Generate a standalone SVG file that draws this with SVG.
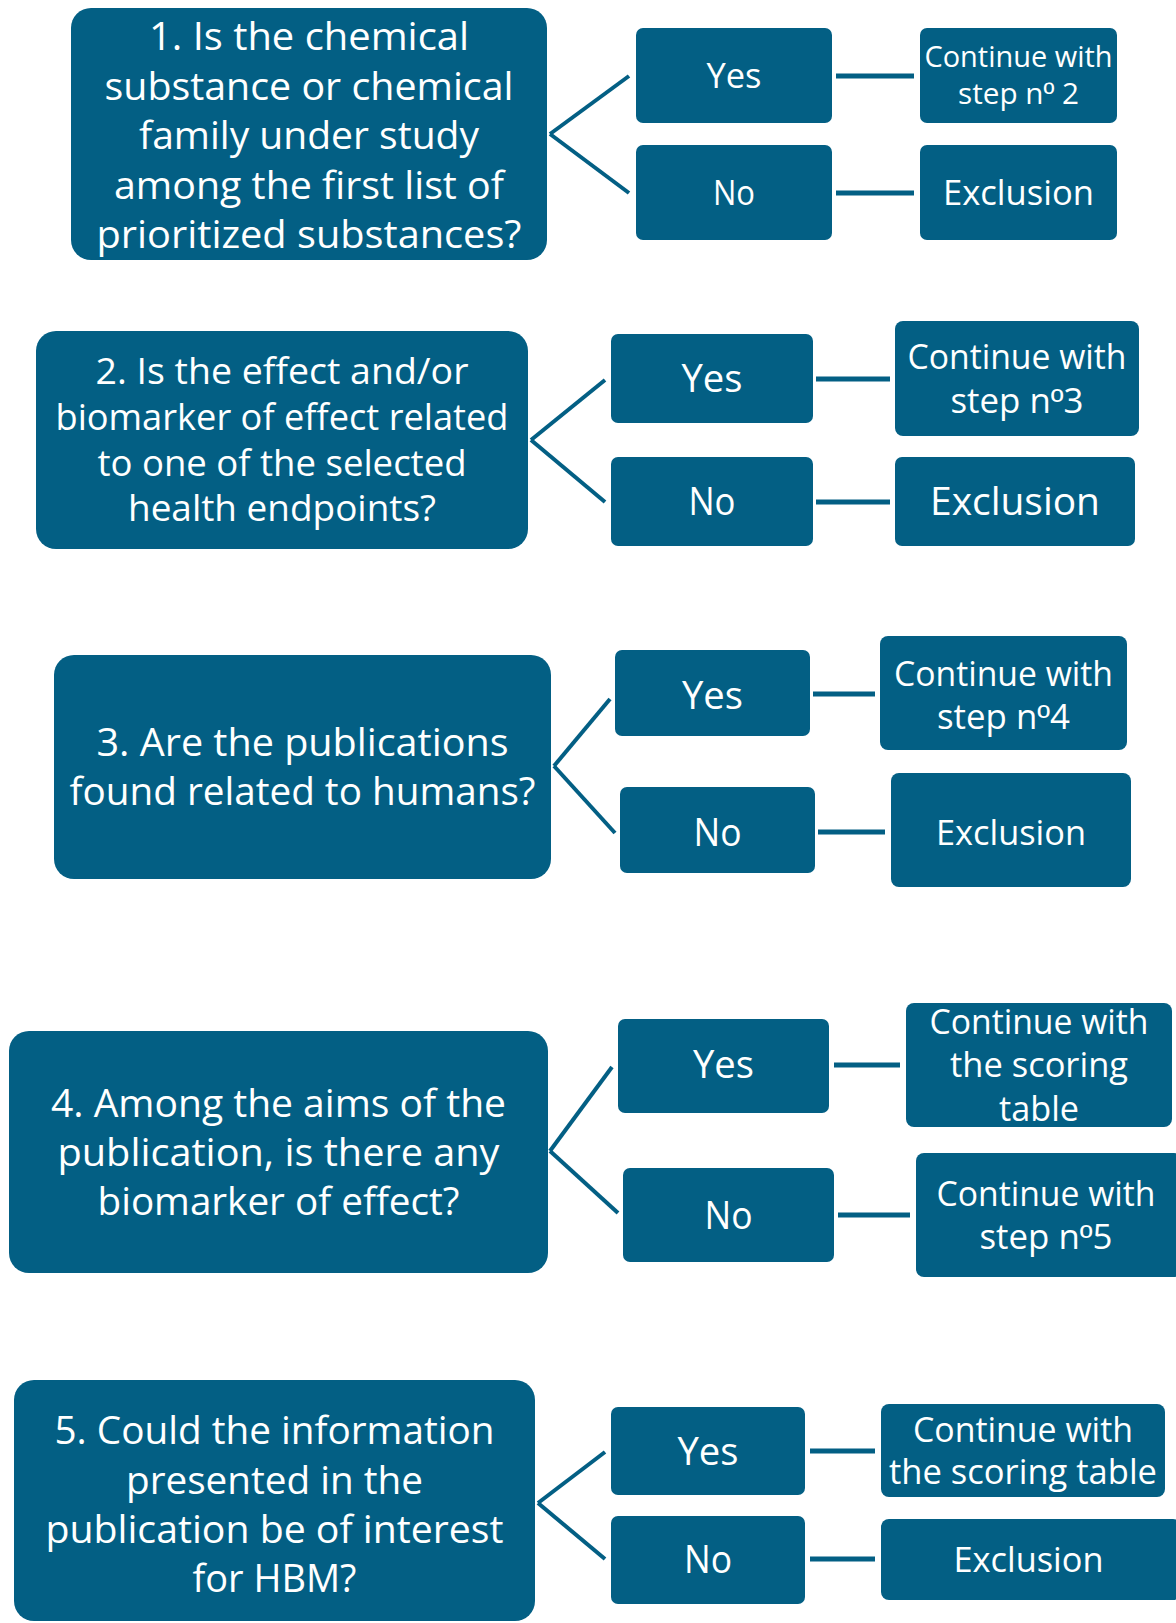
<svg xmlns="http://www.w3.org/2000/svg" width="1176" height="1623" viewBox="0 0 1176 1623">
<style>
.q{fill:#035f84}
.b{fill:#035f84}
.t{fill:#ffffff;font-family:"Open Sans","Noto Sans","Liberation Sans",sans-serif;text-anchor:middle}
.o{font-family:"Liberation Sans","DejaVu Sans",sans-serif}
.c line{stroke:#035f84;stroke-linecap:butt}
.d{stroke-width:4}
.h{stroke-width:5}
</style>
<rect width="1176" height="1623" fill="#ffffff"/>
<g class="c" id="connectors">
<line class="d" x1="550" y1="134" x2="629" y2="76"/>
<line class="d" x1="550" y1="134" x2="629" y2="193"/>
<line class="h" x1="836" y1="76" x2="914" y2="76"/>
<line class="h" x1="836" y1="193" x2="914" y2="193"/>
<line class="d" x1="531" y1="440" x2="605" y2="380"/>
<line class="d" x1="531" y1="440" x2="605" y2="502"/>
<line class="h" x1="816" y1="379" x2="890" y2="379"/>
<line class="h" x1="816" y1="502" x2="890" y2="502"/>
<line class="d" x1="554" y1="766" x2="610" y2="699"/>
<line class="d" x1="554" y1="766" x2="615" y2="833"/>
<line class="h" x1="813" y1="694" x2="875" y2="694"/>
<line class="h" x1="818" y1="832" x2="885" y2="832"/>
<line class="d" x1="550" y1="1151" x2="612" y2="1067"/>
<line class="d" x1="550" y1="1151" x2="618" y2="1213"/>
<line class="h" x1="834" y1="1065" x2="900" y2="1065"/>
<line class="h" x1="838" y1="1215" x2="910" y2="1215"/>
<line class="d" x1="538" y1="1503" x2="605" y2="1452"/>
<line class="d" x1="538" y1="1503" x2="605" y2="1559"/>
<line class="h" x1="810" y1="1451" x2="875" y2="1451"/>
<line class="h" x1="810" y1="1559" x2="875" y2="1559"/>
</g>
<g id="q1"><rect class="q" x="71" y="8" width="476" height="252" rx="20"/>
<text class="t" font-size="38" x="309" y="50" textLength="320" lengthAdjust="spacingAndGlyphs">1. Is the chemical</text>
<text class="t" font-size="38" x="309" y="99.5" textLength="409" lengthAdjust="spacingAndGlyphs">substance or chemical</text>
<text class="t" font-size="38" x="309" y="149" textLength="340" lengthAdjust="spacingAndGlyphs">family under study</text>
<text class="t" font-size="38" x="309" y="198.5" textLength="390" lengthAdjust="spacingAndGlyphs">among the first list of</text>
<text class="t" font-size="38" x="309" y="248" textLength="425" lengthAdjust="spacingAndGlyphs">prioritized substances?</text></g>
<g id="yes1"><rect class="b" x="636" y="28" width="196" height="95" rx="7"/><text class="t" font-size="35" x="734" y="88" textLength="55" lengthAdjust="spacingAndGlyphs">Yes</text></g>
<g id="no1"><rect class="b" x="636" y="145" width="196" height="95" rx="7"/><text class="t" font-size="35" x="734" y="205" textLength="42" lengthAdjust="spacingAndGlyphs">No</text></g>
<g id="cont1"><rect class="b" x="920" y="28" width="197" height="95" rx="7"/>
<text class="t" font-size="30" x="1018.5" y="67" textLength="188" lengthAdjust="spacingAndGlyphs">Continue with</text>
<text class="t" font-size="30" x="1018.5" y="104" textLength="121" lengthAdjust="spacingAndGlyphs">step n<tspan class="o">º</tspan> 2</text></g>
<g id="excl1"><rect class="b" x="920" y="145" width="197" height="95" rx="7"/><text class="t" font-size="34" x="1018.5" y="205" textLength="151" lengthAdjust="spacingAndGlyphs">Exclusion</text></g>

<g id="q2"><rect class="q" x="36" y="331" width="492" height="218" rx="20"/>
<text class="t" font-size="36" x="282" y="384" textLength="373" lengthAdjust="spacingAndGlyphs">2. Is the effect and/or</text>
<text class="t" font-size="36" x="282" y="430" textLength="453" lengthAdjust="spacingAndGlyphs">biomarker of effect related</text>
<text class="t" font-size="36" x="282" y="476" textLength="369" lengthAdjust="spacingAndGlyphs">to one of the selected</text>
<text class="t" font-size="36" x="282" y="521" textLength="308" lengthAdjust="spacingAndGlyphs">health endpoints?</text></g>
<g id="yes2"><rect class="b" x="611" y="334" width="202" height="89" rx="7"/><text class="t" font-size="38" x="712" y="392" textLength="61" lengthAdjust="spacingAndGlyphs">Yes</text></g>
<g id="no2"><rect class="b" x="611" y="457" width="202" height="89" rx="7"/><text class="t" font-size="38" x="712" y="515" textLength="47" lengthAdjust="spacingAndGlyphs">No</text></g>
<g id="cont2"><rect class="b" x="895" y="321" width="244" height="115" rx="8"/>
<text class="t" font-size="34" x="1017" y="369" textLength="219" lengthAdjust="spacingAndGlyphs">Continue with</text>
<text class="t" font-size="34" x="1017" y="413" textLength="133" lengthAdjust="spacingAndGlyphs">step n<tspan class="o">º</tspan>3</text></g>
<g id="excl2"><rect class="b" x="895" y="457" width="240" height="89" rx="7"/><text class="t" font-size="38" x="1015" y="515" textLength="170" lengthAdjust="spacingAndGlyphs">Exclusion</text></g>

<g id="q3"><rect class="q" x="54" y="655" width="497" height="224" rx="20"/>
<text class="t" font-size="38" x="302.5" y="756" textLength="412" lengthAdjust="spacingAndGlyphs">3. Are the publications</text>
<text class="t" font-size="38" x="302.5" y="805" textLength="466" lengthAdjust="spacingAndGlyphs">found related to humans?</text></g>
<g id="yes3"><rect class="b" x="615" y="650" width="195" height="86" rx="7"/><text class="t" font-size="38" x="712.5" y="709" textLength="61" lengthAdjust="spacingAndGlyphs">Yes</text></g>
<g id="no3"><rect class="b" x="620" y="787" width="195" height="86" rx="7"/><text class="t" font-size="38" x="717.5" y="846" textLength="48" lengthAdjust="spacingAndGlyphs">No</text></g>
<g id="cont3"><rect class="b" x="880" y="636" width="247" height="114" rx="8"/>
<text class="t" font-size="34" x="1003.5" y="686" textLength="219" lengthAdjust="spacingAndGlyphs">Continue with</text>
<text class="t" font-size="34" x="1003.5" y="729" textLength="133" lengthAdjust="spacingAndGlyphs">step n<tspan class="o">º</tspan>4</text></g>
<g id="excl3"><rect class="b" x="891" y="773" width="240" height="114" rx="8"/><text class="t" font-size="35" x="1011" y="845" textLength="150" lengthAdjust="spacingAndGlyphs">Exclusion</text></g>

<g id="q4"><rect class="q" x="9" y="1031" width="539" height="242" rx="20"/>
<text class="t" font-size="38" x="278.5" y="1117" textLength="455" lengthAdjust="spacingAndGlyphs">4. Among the aims of the</text>
<text class="t" font-size="38" x="278.5" y="1166" textLength="442" lengthAdjust="spacingAndGlyphs">publication, is there any</text>
<text class="t" font-size="38" x="278.5" y="1215" textLength="362" lengthAdjust="spacingAndGlyphs">biomarker of effect?</text></g>
<g id="yes4"><rect class="b" x="618" y="1019" width="211" height="94" rx="7"/><text class="t" font-size="38" x="723.5" y="1078" textLength="61" lengthAdjust="spacingAndGlyphs">Yes</text></g>
<g id="no4"><rect class="b" x="623" y="1168" width="211" height="94" rx="7"/><text class="t" font-size="38" x="728.5" y="1229" textLength="48" lengthAdjust="spacingAndGlyphs">No</text></g>
<g id="cont4a"><rect class="b" x="906" y="1003" width="266" height="124" rx="8"/>
<text class="t" font-size="34" x="1039" y="1034" textLength="219" lengthAdjust="spacingAndGlyphs">Continue with</text>
<text class="t" font-size="34" x="1039" y="1077" textLength="178" lengthAdjust="spacingAndGlyphs">the scoring</text>
<text class="t" font-size="34" x="1039" y="1121" textLength="80" lengthAdjust="spacingAndGlyphs">table</text></g>
<g id="cont4b"><rect class="b" x="916" y="1153" width="266" height="124" rx="8"/>
<text class="t" font-size="34" x="1046" y="1206" textLength="219" lengthAdjust="spacingAndGlyphs">Continue with</text>
<text class="t" font-size="34" x="1046" y="1249" textLength="133" lengthAdjust="spacingAndGlyphs">step n<tspan class="o">º</tspan>5</text></g>

<g id="q5"><rect class="q" x="14" y="1380" width="521" height="241" rx="20"/>
<text class="t" font-size="38" x="274.5" y="1444" textLength="440" lengthAdjust="spacingAndGlyphs">5. Could the information</text>
<text class="t" font-size="38" x="274.5" y="1494" textLength="297" lengthAdjust="spacingAndGlyphs">presented in the</text>
<text class="t" font-size="38" x="274.5" y="1543" textLength="458" lengthAdjust="spacingAndGlyphs">publication be of interest</text>
<text class="t" font-size="38" x="274.5" y="1592" textLength="164" lengthAdjust="spacingAndGlyphs">for HBM?</text></g>
<g id="yes5"><rect class="b" x="611" y="1407" width="194" height="88" rx="7"/><text class="t" font-size="38" x="708" y="1465" textLength="61" lengthAdjust="spacingAndGlyphs">Yes</text></g>
<g id="no5"><rect class="b" x="611" y="1516" width="194" height="88" rx="7"/><text class="t" font-size="38" x="708" y="1573" textLength="48" lengthAdjust="spacingAndGlyphs">No</text></g>
<g id="cont5"><rect class="b" x="881" y="1404" width="284" height="93" rx="8"/>
<text class="t" font-size="34" x="1023" y="1442" textLength="220" lengthAdjust="spacingAndGlyphs">Continue with</text>
<text class="t" font-size="34" x="1023" y="1484" textLength="268" lengthAdjust="spacingAndGlyphs">the scoring table</text></g>
<g id="excl5"><rect class="b" x="881" y="1519" width="300" height="81" rx="8"/><text class="t" font-size="35" x="1028.5" y="1572" textLength="150" lengthAdjust="spacingAndGlyphs">Exclusion</text></g>
</svg>
